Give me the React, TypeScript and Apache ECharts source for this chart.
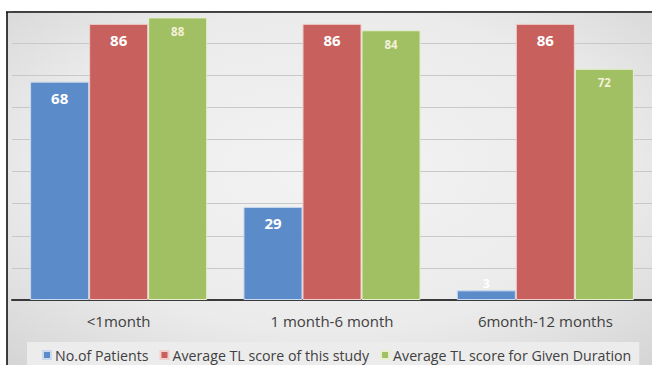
import React, { useEffect, useRef } from "react";
import * as echarts from "echarts";

const categories = ["<1month", "1 month-6 month", "6month-12 months"];
const patients = [68, 29, 3];
const studyScore = [86, 86, 86];
const durationScore = [88, 84, 72];
const seriesNames = [
  "No.of Patients",
  "Average TL score of this study",
  "Average TL score for Given Duration",
];

const FONT = "'Open Sans', 'Noto Sans', sans-serif";

export default function App() {
  const ref = useRef<HTMLDivElement>(null);

  useEffect(() => {
    if (!ref.current) return;
    const chart = echarts.init(ref.current, null, { renderer: "svg" });

    const bigLabel = {
      show: true,
      position: "insideTop",
      distance: 9,
      color: "#ffffff",
      fontWeight: "bold",
      fontSize: 15,
      fontFamily: FONT,
    };
    const smallLabel = {
      show: true,
      position: "insideTop",
      distance: 8,
      color: "#f3f1d6",
      fontWeight: "bold",
      fontSize: 11.5,
      fontFamily: FONT,
    };

    chart.setOption({
      animation: false,
      backgroundColor: "#ffffff",
      graphic: [
        {
          type: "rect",
          z: -10,
          silent: true,
          shape: { x: 7, y: 12, width: 645, height: 353 },
          style: {
            fill: new echarts.graphic.RadialGradient(0.5, 0.45, 0.75, [
              { offset: 0, color: "#f3f3f3" },
              { offset: 0.6, color: "#ebebeb" },
              { offset: 1, color: "#d4d4d4" },
            ]),
          },
        },
        {
          type: "line",
          z: 100,
          silent: true,
          shape: { x1: 6, y1: 12, x2: 652, y2: 12 },
          style: { stroke: "#111111", lineWidth: 1.6 },
        },
        {
          type: "line",
          z: 100,
          silent: true,
          shape: { x1: 7, y1: 12, x2: 7, y2: 365 },
          style: { stroke: "#111111", lineWidth: 1.6 },
        },
      ],
      grid: { left: 12, right: 0, top: 11, bottom: 65, containLabel: false },
      legend: {
        data: seriesNames,
        bottom: -3,
        left: 27,
        padding: [6, 8, 6, 15],
        backgroundColor: "#ececec",
        itemWidth: 8,
        itemHeight: 8,
        itemGap: 11,
        icon: "rect",
        textStyle: { color: "#404040", fontSize: 14.2, fontFamily: FONT, padding: [0, 0, 0, -1] },
      },
      xAxis: {
        type: "category",
        data: categories,
        axisTick: { show: false },
        axisLine: { lineStyle: { color: "#3a3a3a", width: 2 } },
        axisLabel: { color: "#404040", fontSize: 15, fontFamily: FONT, margin: 13 },
      },
      yAxis: {
        type: "value",
        min: 0,
        max: 90,
        interval: 10,
        axisLabel: { show: false },
        axisLine: { show: false },
        axisTick: { show: false },
        splitLine: { lineStyle: { color: "#c8c8c8", width: 1 } },
      },
      series: [
        {
          name: seriesNames[0],
          type: "bar",
          barGap: "0%",
          barCategoryGap: "17%",
          data: patients.map((v) =>
            v < 6
              ? {
                  value: v,
                  label: {
                    show: true,
                    position: "top",
                    distance: 0,
                    color: "#ffffff",
                    fontWeight: "bold",
                    fontSize: 12.5,
                    fontFamily: FONT,
                  },
                }
              : v
          ),
          itemStyle: { color: "#5b8bc9", borderColor: "#c9d9ee", borderWidth: 1 },
          label: bigLabel,
        },
        {
          name: seriesNames[1],
          type: "bar",
          data: studyScore,
          itemStyle: { color: "#c8605d", borderColor: "#f0cfcd", borderWidth: 1 },
          label: bigLabel,
        },
        {
          name: seriesNames[2],
          type: "bar",
          data: durationScore,
          itemStyle: { color: "#a1bf63", borderColor: "#e6efcf", borderWidth: 1 },
          label: smallLabel,
        },
      ],
    });

    return () => chart.dispose();
  }, []);

  return (
    <div
      ref={ref}
      style={{ position: "fixed", left: 0, top: 0, width: 652, height: 365 }}
    />
  );
}
